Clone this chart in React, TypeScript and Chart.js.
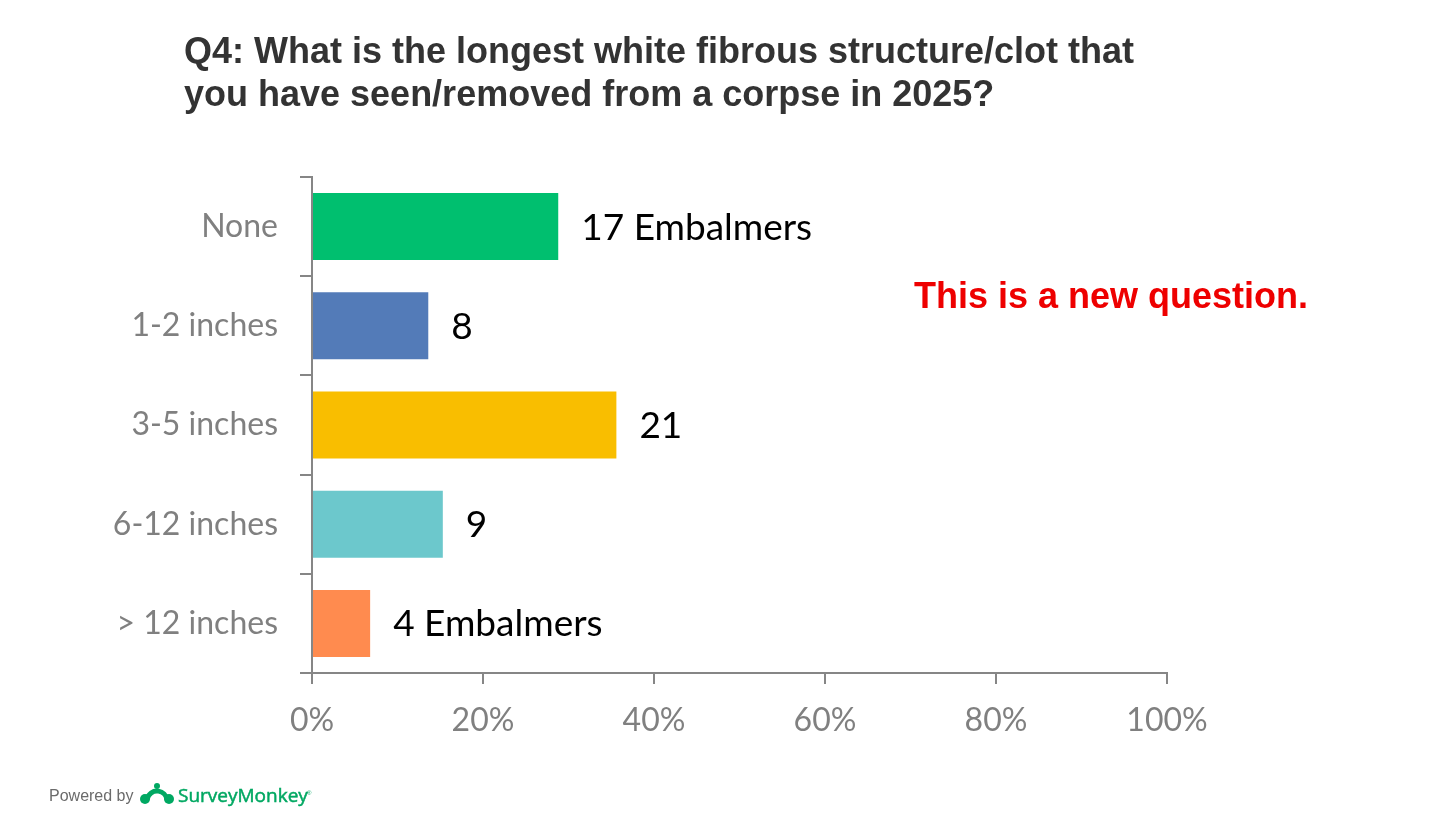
import React, { useEffect, useRef } from "react";
import { Chart, registerables } from "chart.js";

Chart.register(...registerables);

const categories = ["None", "1-2 inches", "3-5 inches", "6-12 inches", "> 12 inches"];
const percents = [28.8, 13.6, 35.6, 15.3, 6.8];
const valueLabels = ["17 Embalmers", "8", "21", "9", "4 Embalmers"];
const barColors = ["#00BF6F", "#537BB8", "#F9BE00", "#6CC8CC", "#FF8B4F"];
const xTicks = [0, 20, 40, 60, 80, 100];
const titleLines = [
  "Q4: What is the longest white fibrous structure/clot that",
  "you have seen/removed from a corpse in 2025?",
];
const noteText = "This is a new question.";

const LABEL_FONT = "Lato, 'Open Sans', sans-serif";

const textPlugin = {
  id: "textPlugin",
  afterDatasetsDraw(chart: any) {
    const ctx = chart.ctx;
    const meta = chart.getDatasetMeta(0);
    ctx.save();
    ctx.fillStyle = "#000000";
    ctx.font = `37px ${LABEL_FONT}`;
    ctx.textBaseline = "middle";
    ctx.textAlign = "left";
    meta.data.forEach((bar: any, i: number) => {
      ctx.fillText(valueLabels[i], bar.x + 23, bar.y + 1);
    });
    ctx.restore();
  },
  afterDraw(chart: any) {
    const ctx = chart.ctx;
    ctx.save();
    // title
    ctx.fillStyle = "#333333";
    ctx.font = "bold 36px 'Liberation Sans', Arial, sans-serif";
    ctx.textBaseline = "alphabetic";
    ctx.textAlign = "left";
    ctx.fillText(titleLines[0], 184, 63);
    ctx.fillText(titleLines[1], 184, 106);
    // note
    ctx.fillStyle = "#EE0000";
    ctx.font = "bold 36px 'Liberation Sans', Arial, sans-serif";
    ctx.fillText(noteText, 914, 308);
    // footer
    ctx.fillStyle = "#6b6b6b";
    ctx.font = "16px 'Liberation Sans', Arial, sans-serif";
    ctx.fillText("Powered by", 49, 801);
    // logo icon
    ctx.fillStyle = "#00A862";
    ctx.strokeStyle = "#00A862";
    ctx.lineWidth = 5;
    ctx.beginPath();
    ctx.arc(157, 801, 10, Math.PI * 1.05, Math.PI * 1.95);
    ctx.stroke();
    ctx.beginPath();
    ctx.arc(145, 799, 5, 0, Math.PI * 2);
    ctx.fill();
    ctx.beginPath();
    ctx.arc(169, 799, 5, 0, Math.PI * 2);
    ctx.fill();
    ctx.beginPath();
    ctx.arc(157, 786, 3, 0, Math.PI * 2);
    ctx.fill();
    ctx.font = "19px 'Open Sans', 'Liberation Sans', sans-serif";
    ctx.fillStyle = "#00A862";
    ctx.fillText("SurveyMonkey", 178, 802);
    ctx.lineWidth = 0.5;
    ctx.strokeText("SurveyMonkey", 178, 802);
    ctx.font = "6px 'Liberation Sans', sans-serif";
    ctx.fillText("®", 307, 795);
    ctx.restore();
  },
};

export default function App() {
  const ref = useRef<HTMLCanvasElement | null>(null);
  useEffect(() => {
    if (!ref.current) return;
    const chart = new Chart(ref.current, {
      type: "bar",
      data: {
        labels: categories,
        datasets: [
          {
            data: percents,
            backgroundColor: barColors,
            borderWidth: 0,
            categoryPercentage: 1,
            barPercentage: 0.675,
          },
        ],
      },
      options: {
        indexAxis: "y",
        animation: false,
        responsive: false,
        maintainAspectRatio: false,
        layout: { padding: { left: 0, top: 177, right: 289, bottom: 0 } },
        plugins: {
          legend: { display: false },
          tooltip: { enabled: false },
          title: { display: false },
        },
        scales: {
          x: {
            min: 0,
            max: 100,
            afterBuildTicks: (scale: any) => {
              scale.ticks = xTicks.map((v) => ({ value: v }));
            },
            afterFit: (scale: any) => {
              scale.height = 146;
            },
            border: { display: true, color: "#868686", width: 2 },
            grid: {
              display: true,
              drawOnChartArea: false,
              drawTicks: true,
              tickLength: 11,
              color: "#868686",
              lineWidth: 2,
            },
            ticks: {
              callback: (v: any) => `${v}%`,
              color: "#808080",
              font: { family: LABEL_FONT, size: 32 },
              padding: 17,
              maxRotation: 0,
            },
          },
          y: {
            offset: true,
            afterFit: (scale: any) => {
              scale.width = 312;
            },
            border: { display: true, color: "#868686", width: 2 },
            grid: {
              display: true,
              offset: true,
              drawOnChartArea: false,
              drawTicks: true,
              tickLength: 12,
              color: "#868686",
              lineWidth: 2,
            },
            ticks: {
              color: "#808080",
              font: { family: LABEL_FONT, size: 32 },
              padding: 22,
            },
          },
        },
      },
      plugins: [textPlugin],
    } as any);
    return () => chart.destroy();
  }, []);
  return (
    <div style={{ position: "absolute", left: 0, top: 0, width: 1456, height: 819, background: "#ffffff" }}>
      <canvas ref={ref} width={1456} height={819} style={{ width: 1456, height: 819, display: "block" }} />
    </div>
  );
}
